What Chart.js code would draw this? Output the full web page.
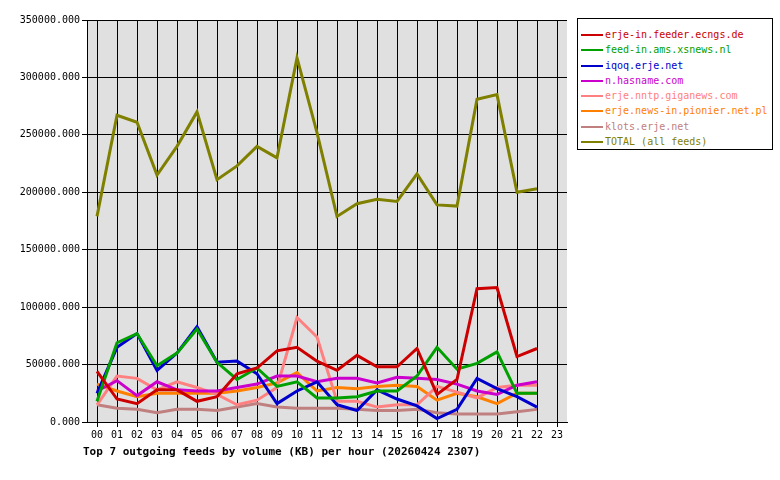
<!DOCTYPE html>
<html>
<head>
<meta charset="utf-8">
<script src="https://cdn.jsdelivr.net/npm/chart.js@4/dist/chart.umd.min.js"></script>
<style>
body { margin: 0; background: #fff; }
#wrap { position: relative; width: 780px; height: 480px; }
#legend { position: absolute; left: 577px; top: 18px; width: 196px; height: 132px; border: 1px solid #000; background: #fff;
  font: 10px "DejaVu Sans Mono", monospace; box-sizing: border-box; padding: 8px 0 0 3px; }
#legend div { height: 15.3px; line-height: 15px; white-space: nowrap; }
#legend span.k { display: inline-block; width: 22px; height: 2px; vertical-align: middle; margin-right: 2px; }
#title { position: absolute; left: 83px; top: 445px; font: bold 11px "DejaVu Sans Mono", monospace; }
</style>
</head>
<body>
<div id="wrap">
<canvas id="myChart" width="780" height="480"></canvas>
<div id="legend"></div>
<div id="title">Top 7 outgoing feeds by volume (KB) per hour (20260424 2307)</div>
</div>
<script>
//Chart Data
var hours = ["00","01","02","03","04","05","06","07","08","09","10","11","12","13","14","15","16","17","18","19","20","21","22","23"];
var feedNames = ["erje-in.feeder.ecngs.de", "feed-in.ams.xsnews.nl", "iqoq.erje.net", "n.hasname.com",
	"erje.nntp.giganews.com", "erje.news-in.pionier.net.pl", "klots.erje.net", "TOTAL (all feeds)"];
var feedColors = ["#cc0000", "#00a000", "#0000cc", "#cc00cc", "#ff8080", "#ff8000", "#c08080", "#808000"];
var ecngs = [44000,20000,16000,28000,28000,18000,22000,42000,47000,62000,65000,53000,45000,58000,48000,48000,64000,24000,37000,116000,117000,57000,64000];
var xsnews = [18000,69000,77000,49000,60000,81000,52000,37000,47000,31000,35000,21000,21000,22000,27000,27000,40000,65000,46000,51000,61000,25000,25000];
var iqoq = [25000,65000,77000,45000,60000,83000,52000,53000,42000,16000,27000,35000,15000,10000,28000,20000,14000,3000,11000,38000,29000,22000,13000];
var hasname = [27000,36000,23000,35000,28000,27000,27000,30000,33000,40000,40000,35000,38000,38000,34000,39000,38000,37000,33000,27000,24000,32000,35000];
var giganews = [15000,40000,38000,28000,35000,30000,24000,15000,19000,30000,91000,74000,18000,18000,13000,15000,15000,31000,26000,21000,30000,32000,32000];
var pionier = [33000,27000,22000,25000,25000,25000,25000,27000,30000,34000,43000,27000,30000,29000,31000,32000,31000,19000,25000,22000,16000,25000,25000];
var klots = [15000,12000,11000,8000,11000,11000,10000,13000,16000,13000,12000,12000,12000,11000,10000,10000,11000,8000,7000,7000,7000,9000,11000];
var total = [179000,267000,261000,215000,240000,270000,211000,223000,240000,230000,317000,252000,179000,190000,194000,192000,216000,189000,188000,281000,285000,200000,203000];
var feedData = [ecngs, xsnews, iqoq, hasname, giganews, pionier, klots, total];

//Build Legend
var legendHtml = "";
for (var i = 0; i < feedNames.length; i++) {
	legendHtml += '<div style="color:' + feedColors[i] + '"><span class="k" style="background:' + feedColors[i] + '"></span>' + feedNames[i] + '</div>';
}
document.getElementById('legend').innerHTML = legendHtml;

//Datasets drawn back to front so the first feed sits on top
var datasets = [];
for (var i = 0; i < feedNames.length; i++) {
	datasets.push({
		label: feedNames[i],
		data: feedData[i],
		borderColor: feedColors[i],
		backgroundColor: feedColors[i],
		borderWidth: 3,
		pointRadius: 0,
		tension: 0,
		order: i
	});
}

//Grey plot background
var plotBg = {
	id: 'plotBg',
	beforeDraw: function (chart) {
		var a = chart.chartArea;
		var ctx = chart.ctx;
		ctx.save();
		ctx.fillStyle = "#e0e0e0";
		ctx.fillRect(a.left, a.top, a.right - a.left, a.bottom - a.top);
		ctx.restore();
	}
};

var ctx = document.getElementById('myChart').getContext("2d");
var myChart = new Chart(ctx, {
	type: 'line',
	data: { labels: hours, datasets: datasets },
	plugins: [plotBg],
	options: {
		responsive: false,
		animation: false,
		layout: { padding: { top: 20, right: 213, bottom: 0, left: 0 } },
		plugins: { legend: { display: false }, tooltip: { enabled: false } },
		scales: {
			x: {
				offset: true,
				grid: { offset: false, color: "#000", tickLength: 5, drawTicks: true },
				border: { color: "#000" },
				ticks: { color: "#000", maxRotation: 0, autoSkip: false, padding: 2, font: { family: "DejaVu Sans Mono", size: 10 } },
				afterFit: function (scale) { scale.height = 58; }
			},
			y: {
				min: 0,
				max: 350000,
				grid: { color: "#000", tickLength: 5 },
				border: { color: "#000" },
				ticks: {
					stepSize: 50000,
					color: "#000",
					padding: 2,
					font: { family: "DejaVu Sans Mono", size: 10 },
					callback: function (v) { return v.toFixed(3); }
				},
				afterFit: function (scale) { scale.width = 87; }
			}
		}
	}
});
</script>
</body>
</html>
